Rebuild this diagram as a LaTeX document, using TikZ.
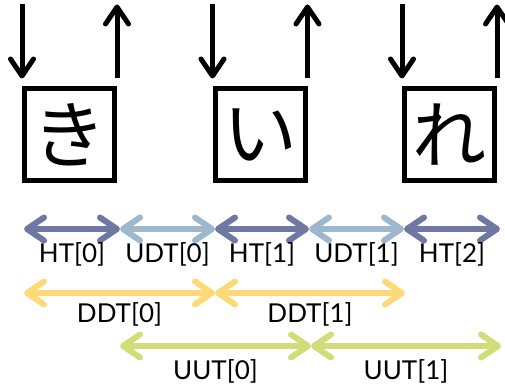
\documentclass[tikz,border=0pt]{standalone}
\usepackage{fontspec}
\setmainfont{Lato}
\newfontfamily\kanafont{Noto Sans CJK JP}
\usetikzlibrary{arrows.meta,calc}
\definecolor{htblue}{HTML}{6F78A2}
\definecolor{udtblue}{HTML}{9DB7CF}
\definecolor{ddtyellow}{HTML}{FDD978}
\definecolor{uutgreen}{HTML}{D2DD7A}
\tikzset{
  charbox/.style={draw=black, line width=5pt, minimum width=90pt, minimum height=92pt,
    inner sep=0pt, font=\kanafont\fontsize{74}{74}\selectfont},
  barb/.tip={Straight Barb[length=17pt,width=23pt,round]},
  ioarrow/.style={line width=5pt, -barb},
  span/.style={line width=6pt, barb-barb},
  spanlabel/.style={font=\fontsize{26}{26}\selectfont, inner sep=0pt},
}
\begin{document}
\begin{tikzpicture}[x=1pt,y=-1pt]
\useasboundingbox (0,0) rectangle (505,387);

% character boxes
\node[charbox] (k) at (69.5,134.5) {き};
\node[charbox] (i) at (260,134.5) {い};
\node[charbox] (r) at (449.5,134.5) {れ};

% input / output arrows above each box
\foreach \b in {k,i,r}{
  \coordinate (\b inTop) at ([yshift=81.5pt]\b.north west);
  \coordinate (\b inEnd) at ([yshift=7.5pt]\b.north west);
  \coordinate (\b outTop) at ([yshift=81.5pt]\b.north east);
  \coordinate (\b outEnd) at ([yshift=7.5pt]\b.north east);
  \draw[ioarrow] (\b inTop) -- (\b inEnd);
  \draw[ioarrow] (\b outEnd) -- (\b outTop);
}

% span end points
\foreach \n/\x in {0/24,1/120,2/215,3/309,4/404,5/500}{
  \coordinate (h\n) at (\x,229);
}
\coordinate (d0) at (24,293);
\coordinate (d1) at (215,293);
\coordinate (d2) at (405,293);
\coordinate (u0) at (120,346);
\coordinate (u1) at (311,346);
\coordinate (u2) at (501,346);

% first row: HT / UDT
\draw[span, htblue]  (h0) -- (h1);
\draw[span, udtblue] (h1) -- (h2);
\draw[span, htblue]  (h2) -- (h3);
\draw[span, udtblue] (h3) -- (h4);
\draw[span, htblue]  (h4) -- (h5);
\node[spanlabel] (lht0)  at ($(h0)!0.5!(h1)+(0,25)$) {HT[0]};
\node[spanlabel] (ludt0) at ($(h1)!0.5!(h2)+(0,25)$) {UDT[0]};
\node[spanlabel] (lht1)  at ($(h2)!0.5!(h3)+(0,25)$) {HT[1]};
\node[spanlabel] (ludt1) at ($(h3)!0.5!(h4)+(0,25)$) {UDT[1]};
\node[spanlabel] (lht2)  at ($(h4)!0.5!(h5)+(0,25)$) {HT[2]};

% second row: DDT
\draw[span, ddtyellow] (d0) -- (d1);
\draw[span, ddtyellow] (d1) -- (d2);
\node[spanlabel] (lddt0) at ($(d0)!0.5!(d1)+(0,21)$) {DDT[0]};
\node[spanlabel] (lddt1) at ($(d1)!0.5!(d2)+(0,21)$) {DDT[1]};

% third row: UUT
\draw[span, uutgreen] (u0) -- (u1);
\draw[span, uutgreen] (u1) -- (u2);
\node[spanlabel] (luut0) at ($(u0)!0.5!(u1)+(0,25)$) {UUT[0]};
\node[spanlabel] (luut1) at ($(u1)!0.5!(u2)+(0,25)$) {UUT[1]};
\end{tikzpicture}
\end{document}
